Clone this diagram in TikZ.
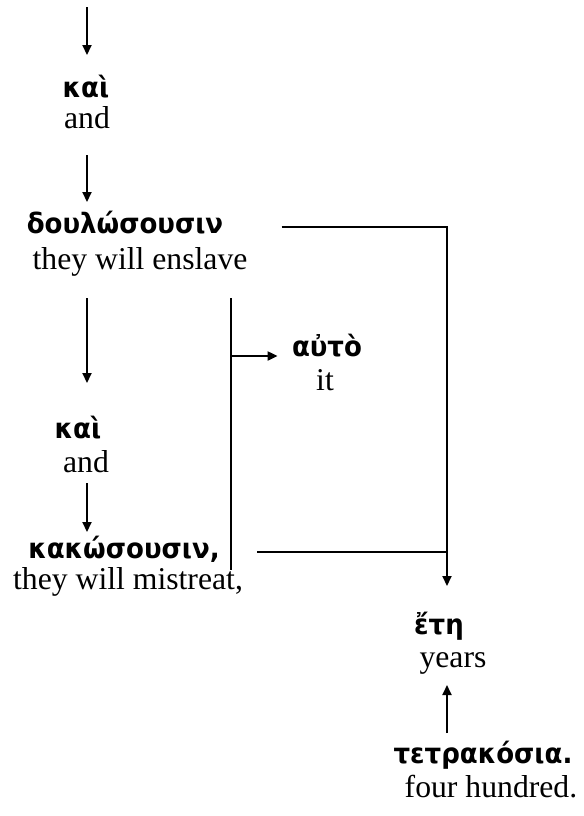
\documentclass[tikz,border=0pt]{standalone}
\usepackage{fontspec}
\setmainfont{Liberation Serif}
\newfontfamily\gkfamily{DejaVu Sans}[FakeStretch=0.93]
\usetikzlibrary{arrows.meta,calc}

\newcommand{\gkfont}{\gkfamily\bfseries\fontsize{14}{16}\selectfont}
\newcommand{\enfont}{\rmfamily\fontsize{15.85}{18}\selectfont}

\tikzset{
  gk/.style={font=\gkfont, anchor=base, inner sep=0pt},
  en/.style={font=\enfont, anchor=base, inner sep=0pt},
  ln/.style={line width=1pt},
  arr/.style={ln, -{Triangle[length=5pt,width=4.5pt]}},
}

\begin{document}
\begin{tikzpicture}[x=0.5pt,y=-0.5pt]
\useasboundingbox (0,0) rectangle (584,816);

% word pairs: Greek above, English gloss below
\node[gk] (kai1)  at (86,97)   {καὶ};
\node[en] (and1)  at (87,128)  {and};
\node[gk] (doul)  at (125,233) {δουλώσουσιν};
\node[en] (ensl)  at (140,269) {they will enslave};
\node[gk] (auto)  at (327,356) {αὐτὸ};
\node[en] (it)    at (325,390) {it};
\node[gk] (kai2)  at (78,438)  {καὶ};
\node[en] (and2)  at (86,472)  {and};
\node[gk] (kak)   at (124,558) {κακώσουσιν,};
\node[en] (mist)  at (128,589) {they will mistreat,};
\node[gk] (eti)   at (439,634) {ἔτη};
\node[en] (years) at (453,667) {years};
\node[gk] (tetr)  at (483,763) {τετρακόσια.};
\node[en] (four)  at (491,797) {four hundred.};

% main vertical chain on the left
\coordinate (top) at (87,7);
\draw[arr] (top) -- ($(top |- kai1.base)+(0,-42)$);
\draw[arr] ($(and1.base)+(0,27)$) -- ($(and1.base |- doul.base)+(0,-31)$);
\draw[arr] ($(and1.base |- ensl.base)+(0,29)$) -- ($(and1.base |- kai2.base)+(0,-55)$);
\draw[arr] ($(and1.base |- and2.base)+(0,11)$) -- ($(and1.base |- kak.base)+(0,-26)$);

% bracket joining both verbs to their object
\coordinate (mtop) at ($(ensl.base)+(91,29)$);
\coordinate (mbot) at ($(kak.base)+(107,12)$);
\draw[ln] (mtop) -- (mtop |- mbot);
\draw[arr] (mtop |- auto.base) -- ($(auto.base west)+(-14,0)$);

% both verbs point down to the time expression
\coordinate (rv) at ($(eti.base)+(8,-48)$);
\coordinate (dstart) at ($(doul.base east)+(58,-6)$);
\draw[arr] (dstart) -| (rv);
\coordinate (kstart) at ($(kak.base east)+(37,-6)$);
\draw[ln] (kstart) -- (kstart -| rv);

% numeral modifies the noun above
\draw[arr] ($(tetr.base)+(-36,-30)$) -- ($(years.base)+(-6,18)$);
\end{tikzpicture}
\end{document}
